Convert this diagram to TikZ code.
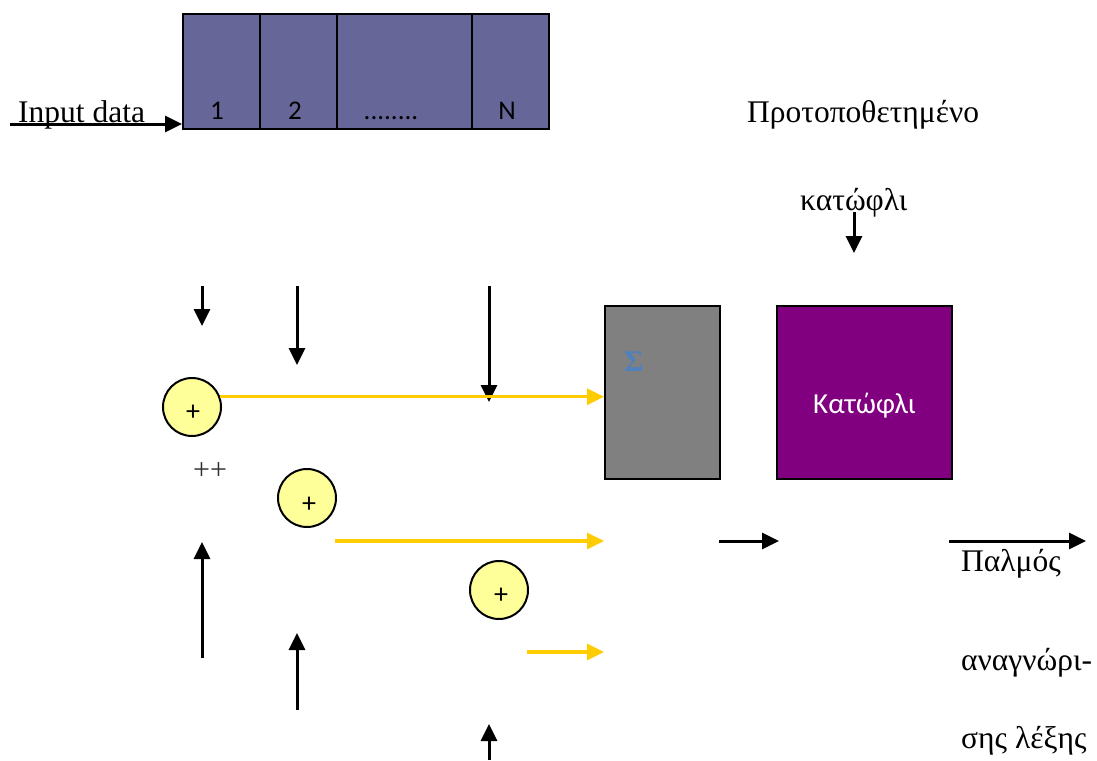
\documentclass[tikz,border=0pt]{standalone}
\usepackage{fontspec}
\setmainfont{Liberation Serif}
\newfontfamily\calibri{Carlito}
\usetikzlibrary{arrows.meta}

\definecolor{regfill}{HTML}{666699}
\definecolor{sumfill}{HTML}{808080}
\definecolor{thrfill}{HTML}{800080}
\definecolor{adderfill}{HTML}{FFFF99}
\definecolor{ylwline}{HTML}{FFCC00}
\definecolor{sigmablue}{HTML}{4F81BD}

\tikzset{
  cell/.style={draw=black, line width=1.8pt, fill=regfill, minimum height=115pt,
               inner sep=0pt, anchor=north west},
  cellnum/.style={font=\calibri\fontsize{27}{31}\selectfont, inner sep=0pt, anchor=base},
  adder/.style={circle, draw=black, line width=2pt, fill=adderfill,
                minimum size=58pt, inner sep=0pt},
  plusmark/.style={font=\calibri\fontsize{28}{32}\selectfont, inner sep=0pt},
  block/.style={draw=black, line width=2pt, minimum height=173pt, inner sep=0pt},
  serif/.style={font=\fontsize{31.5}{37}\selectfont, inner sep=0pt, anchor=base west},
  blk/.style={line width=3pt, -{Triangle[length=17pt,width=16pt]}},
  ylw/.style={draw=ylwline, line width=3.2pt, -{Triangle[length=17pt,width=16pt]}}
}

\begin{document}
\begin{tikzpicture}[x=1pt, y=-1pt]
\useasboundingbox (0,0) rectangle (1097,760);

% shift register
\node[cell, minimum width=77pt]  (c1) at (182,13) {};
\node[cell, minimum width=77pt]  (c2) at (259,13) {};
\node[cell, minimum width=135pt] (c3) at (336,13) {};
\node[cell, minimum width=77pt]  (cN) at (471,13) {};
\node[cellnum] (l1) at (217,119) {1};
\node[cellnum] (l2) at (295,119) {2};
\node[cellnum] (l3) at (391,119) {........};
\node[cellnum] (lN) at (507,119) {N};

% input
\node[serif] (inlabel) at (18,122) {Input data};
\coordinate (inStart) at (10,124);
\draw[blk] (inStart) -- (inStart -| c1.west);

% threshold preset
\node[serif] (preset1) at (747,122) {Προτοποθετημένο};
\node[serif] (preset2) at (800,210) {κατώφλι};
\coordinate (kTop) at (854,212);
\coordinate (kBot) at (854,253);
\draw[blk] (kTop) -- (kBot);

% adders
\node[adder] (a1) at (192,407) {};
\node[adder] (a2) at (307,498) {};
\node[adder] (a3) at (499,590) {};
\node[plusmark] (p1) at (193,413) {+};
\node[plusmark] (p2) at (309,505) {+};
\node[plusmark] (p3) at (501,596) {+};
\node[font=\fontsize{30}{34}\selectfont, text=black!80, inner sep=0pt] (pp) at (210,471) {++};

% summation and threshold blocks
\node[block, fill=sumfill, minimum width=115pt] (sig) at (662.5,392.5) {};
\node[font=\bfseries\fontsize{30}{34}\selectfont, text=sigmablue, inner sep=0pt] (sigma) at (634,362) {Σ};
\node[block, fill=thrfill, minimum width=175pt] (thr) at (864.5,392.5) {};
\node[text=white, font=\calibri\fontsize{29}{34}\selectfont, inner sep=0pt, anchor=base] (thrlabel) at (864.5,413) {Κατώφλι};

% taps from the register (downward)
\coordinate (d1s) at (202,286); \coordinate (d1e) at (202,326);
\coordinate (d2s) at (297,286); \coordinate (d2e) at (297,365);
\coordinate (d3s) at (489,286); \coordinate (d3e) at (489,402);
\draw[blk] (d1s) -- (d1e);
\draw[blk] (d2s) -- (d2e);
\draw[blk] (d3s) -- (d3e);

% inputs from below (upward)
\coordinate (u1s) at (202,658); \coordinate (u1e) at (202,542);
\coordinate (u2s) at (297,710); \coordinate (u2e) at (297,633);
\coordinate (u3s) at (489,760); \coordinate (u3e) at (489,724);
\draw[blk] (u1s) -- (u1e);
\draw[blk] (u2s) -- (u2e);
\draw[blk] (u3s) -- (u3e);

% adder outputs
\draw[ylw] (a1.20) -- (a1.20 -| sig.west);
\coordinate (y2s) at (335,541);
\coordinate (y3s) at (527,652);
\draw[ylw] (y2s) -- (y2s -| sig.west);
\draw[ylw] (y3s) -- (y3s -| sig.west);

% output pulses
\coordinate (b1s) at (719,541); \coordinate (b1e) at (779,541);
\draw[blk] (b1s) -- (b1e);
\coordinate (b2s) at (949,541); \coordinate (b2e) at (1086,541);
\draw[blk] (b2s) -- (b2e);

\node[serif] (out1) at (961,571) {Παλμός};
\node[serif] (out2) at (961,670) {αναγνώρι-};
\node[serif] (out3) at (961,748) {σης λέξης};
\end{tikzpicture}
\end{document}
